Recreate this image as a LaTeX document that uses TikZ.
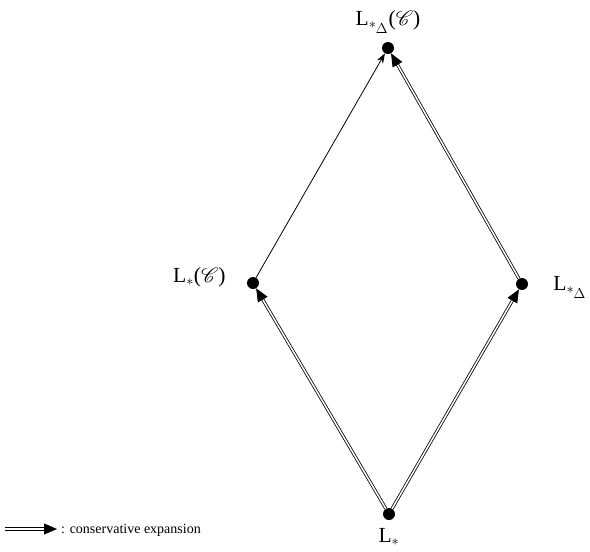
\documentclass[tikz,border=0pt]{standalone}
\usepackage{fontspec}
\usepackage{mathrsfs}
\setmainfont{Liberation Serif}
\usetikzlibrary{arrows.meta,positioning}

\begin{document}
\begin{tikzpicture}[x=1pt,y=-1pt, >=Latex,
 dot/.style={circle,fill,inner sep=0pt,minimum size=12pt},
 lbl/.style={font=\fontsize{21.5}{25}\selectfont,inner sep=0pt},
 cons/.style={double,double distance=1.5pt,line width=0.8pt,-{Triangle[length=13pt,width=11pt]}},
 plain/.style={line width=0.8pt,-{Stealth[length=10pt,width=7pt]}}]
\useasboundingbox (0,0) rectangle (590,552);
\node[dot] (top) at (388,48) {};
\node[dot] (left) at (253,283) {};
\node[dot] (right) at (522,284) {};
\node[dot] (bot) at (389,514) {};
\node[lbl,above=8pt of top] (topl) {L$_{*_{\scriptstyle\Delta}}$($\mathscr{C}$)};
\node[lbl,left=21pt of left,yshift=6pt] (leftl) {L$_*$($\mathscr{C}$)};
\node[lbl,right=25pt of right,yshift=-3pt] (rightl) {L$_{*_{\scriptstyle\Delta}}$};
\node[lbl,below=8pt of bot] (botl) {L$_*$};
\draw[cons] (bot)--(left);
\draw[cons] (bot)--(right);
\draw[cons] (right)--(top);
\draw[plain] (left)--(top);
% legend
\coordinate (k0) at (5,529);
\coordinate (k1) at (57,529);
\draw[cons] (k0)--(k1);
\node[anchor=west,font=\fontsize{14}{17}\selectfont,inner sep=0pt] (keyl) at (61,530) {: conservative expansion};
\end{tikzpicture}
\end{document}
